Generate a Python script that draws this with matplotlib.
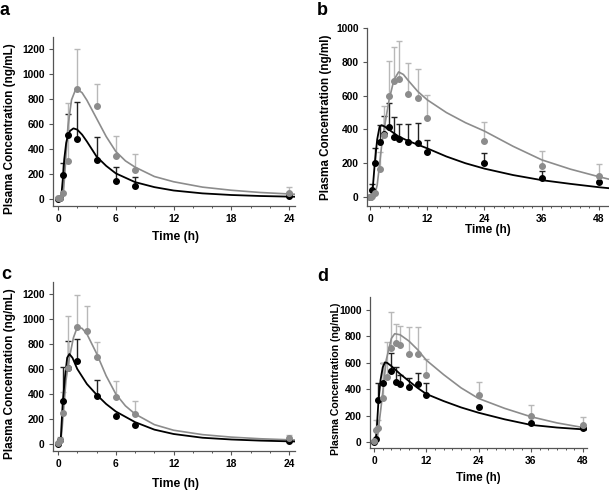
import numpy as np
import matplotlib.pyplot as plt
from matplotlib.ticker import MultipleLocator

plt.rcParams['font.family'] = ['Liberation Sans', 'DejaVu Sans']
plt.rcParams['font.weight'] = 'bold'

# ---- panel a ----
a_t = [0, 0.25, 0.5, 1, 2, 4, 6, 8, 24]
a_black = [3, 5, 190, 510, 480, 315, 145, 100, 20]
a_black_sd = [0, 0, 95, 170, 295, 180, 113, 76, 30]
a_grey = [5, 5, 45, 305, 880, 745, 345, 235, 50]
a_grey_sd = [0, 0, 0, 465, 320, 175, 155, 125, 45]
a_fit_black_t = [0, 0.25, 0.35, 0.5, 0.65, 0.85, 1.0, 1.25, 1.6, 2, 2.5, 3, 4, 5, 6, 8, 10, 12, 15, 18, 21, 24.6]
a_fit_black = [0, 0, 30, 160, 320, 450, 500, 545, 565, 555, 515, 460, 340, 265, 205, 135, 95, 68, 45, 32, 24, 18]
a_fit_grey_t = [0, 0.4, 0.55, 0.73, 1.03, 1.4, 1.87, 2.5, 3, 4, 5, 6, 7, 8, 10, 12, 15, 18, 21, 24.6]
a_fit_grey = [0, 0, 40, 232, 579, 792, 885, 850, 790, 645, 500, 380, 305, 255, 180, 138, 95, 70, 52, 38]

# ---- panel b ----
b_black_t = [0, 0.5, 1, 2, 3, 4, 5, 6, 8, 10, 12, 24, 36, 48]
b_black = [0, 42, 199, 327, 372, 412, 357, 341, 325, 320, 264, 199, 112, 89]
b_black_sd = [0, 34, 93, 99, 109, 146, 114, 91, 107, 116, 73, 63, 44, 0]
b_grey_t = [0, 0.25, 0.5, 1, 2, 3, 4, 5, 6, 8, 10, 12, 24, 36, 48]
b_grey = [0, 2, 8, 25, 164, 367, 598, 688, 700, 609, 584, 468, 331, 181, 124]
b_grey_sd = [0, 0, 0, 0, 104, 171, 209, 201, 225, 186, 173, 135, 114, 91, 71]
b_fit_black_t = [0, 0.3, 0.6, 1, 1.5, 2.0, 2.4, 3, 4, 5, 6, 8, 10, 12, 16, 20, 24, 30, 36, 42, 48, 50.2]
b_fit_black = [0, 0, 60, 200, 340, 415, 425, 418, 398, 378, 358, 332, 310, 288, 240, 200, 168, 130, 100, 78, 58, 52]
b_fit_grey_t = [0, 0.7, 1.0, 1.5, 2, 2.5, 3, 4, 5, 6, 7, 8, 10, 12, 16, 20, 24, 30, 36, 42, 48, 50.2]
b_fit_grey = [0, 0, 15, 70, 190, 320, 410, 574, 692, 740, 725, 690, 625, 575, 500, 440, 390, 300, 220, 165, 120, 105]

# ---- panel c ----
c_black_t = [0, 0.25, 0.5, 1, 2, 4, 6, 8, 24]
c_black = [0, 30, 347, 610, 667, 384, 224, 149, 24]
c_black_sd = [0, 0, 266, 215, 170, 130, 0, 0, 0]
c_grey_t = [0, 0.25, 0.5, 1, 2, 3, 4, 6, 8, 24]
c_grey = [5, 30, 245, 605, 933, 907, 699, 379, 240, 45]
c_grey_sd = [0, 30, 175, 420, 257, 200, 120, 126, 108, 30]
c_fit_black_t = [0, 0.15, 0.3, 0.49, 0.73, 0.95, 1.18, 1.5, 2, 3, 4, 5, 6, 8, 10, 12, 15, 18, 21, 24.6]
c_fit_black = [0, 0, 60, 330, 540, 690, 720, 690, 600, 480, 395, 320, 260, 175, 115, 80, 50, 36, 27, 20]
c_fit_grey_t = [0, 0.25, 0.4, 0.55, 0.83, 1.18, 1.6, 2, 2.5, 3, 4, 5, 6, 7, 8, 10, 12, 15, 18, 21, 24.6]
c_fit_grey = [0, 5, 100, 245, 510, 690, 850, 935, 925, 880, 725, 545, 400, 305, 240, 155, 110, 75, 55, 42, 32]

# ---- panel d ----
d_black_t = [0, 0.5, 1, 2, 4, 5, 6, 8, 10, 12, 24, 36, 48]
d_black = [0, 20, 318, 444, 540, 457, 439, 419, 439, 356, 268, 146, 105]
d_black_sd = [0, 0, 131, 152, 137, 114, 69, 63, 81, 88, 0, 0, 0]
d_grey_t = [0, 0.5, 1, 2, 3, 4, 5, 6, 8, 10, 12, 24, 36, 48]
d_grey = [5, 91, 108, 331, 490, 710, 748, 735, 664, 664, 508, 356, 200, 129]
d_grey_sd = [0, 76, 60, 270, 270, 277, 146, 144, 210, 210, 122, 99, 80, 63]
d_fit_black_t = [0, 0.3, 0.6, 1.0, 1.5, 2.0, 2.5, 3, 4, 5, 6, 8, 10, 12, 16, 20, 24, 30, 36, 42, 48, 49]
d_fit_black = [0, 0, 80, 300, 470, 565, 603, 600, 575, 545, 515, 462, 410, 364, 310, 262, 222, 172, 130, 110, 96, 94]
d_fit_grey_t = [0, 0.4, 0.8, 1.2, 1.6, 2.07, 2.8, 4, 4.75, 6, 8, 10, 12, 16, 20, 24, 30, 36, 42, 48, 49]
d_fit_grey = [0, 0, 40, 150, 260, 394, 621, 785, 820, 812, 765, 700, 620, 510, 410, 330, 255, 192, 145, 110, 105]

GREY = '#8c8c8c'
GREY_BAR = '#b8b8b8'
BLACK = '#000000'


def draw_bars(ax, t, y, sd, barcolor):
    t = np.array(t, dtype=float)
    y = np.array(y, dtype=float)
    sd = np.array(sd, dtype=float)
    m = sd > 0
    ax.errorbar(t[m], y[m], yerr=[np.zeros(m.sum()), sd[m]], fmt='none',
                ecolor=barcolor, elinewidth=1.0, capsize=2.5, capthick=1.0)


def draw_panel(ax, black, grey):
    # black: (t, y, sd, fit_t, fit_y); grey likewise
    draw_bars(ax, black[0], black[1], black[2], '#222222')
    draw_bars(ax, grey[0], grey[1], grey[2], GREY_BAR)
    ax.plot(grey[3], grey[4], color=GREY, lw=1.2)
    ax.plot(black[3], black[4], color=BLACK, lw=1.3)
    ax.plot(black[0], black[1], 'o', color=BLACK, ms=4.0)
    ax.plot(grey[0], grey[1], 'o', color=GREY, ms=4.0)


def style_axes(ax, xlim, ylim, xmajor, ylabel, ylab_xy, xlab_xy, ylab_size, xlab_size):
    ax.set_xlim(*xlim)
    ax.set_ylim(*ylim)
    ax.xaxis.set_major_locator(MultipleLocator(xmajor))
    ax.xaxis.set_minor_locator(MultipleLocator(2))
    ax.yaxis.set_major_locator(MultipleLocator(200))
    for s in ['top', 'right']:
        ax.spines[s].set_visible(False)
    for s in ['left', 'bottom']:
        ax.spines[s].set_color('#555555')
        ax.spines[s].set_linewidth(0.9)
    ax.tick_params(which='major', direction='out', length=3, width=0.8, color='#555555',
                   labelsize=7.4, pad=3)
    ax.tick_params(which='minor', direction='out', length=1.5, width=0.7, color='#555555')
    for lab in ax.get_xticklabels() + ax.get_yticklabels():
        lab.set_fontweight('bold')
    ax.set_ylabel(ylabel, fontsize=ylab_size, fontweight='bold', va='center')
    ax.yaxis.set_label_coords(*ylab_xy)
    ax.set_xlabel('Time (h)', fontsize=xlab_size, fontweight='bold', va='center')
    ax.xaxis.set_label_coords(*xlab_xy)


W, H = 609, 490
fig = plt.figure(figsize=(W / 100, H / 100), dpi=100)


def px_axes(left, top, right, bottom):
    return fig.add_axes([left / W, 1 - bottom / H, (right - left) / W, (bottom - top) / H])


ax_a = px_axes(53, 37, 295, 206)
draw_panel(ax_a, (a_t, a_black, a_black_sd, a_fit_black_t, a_fit_black),
           (a_t, a_grey, a_grey_sd, a_fit_grey_t, a_fit_grey))
style_axes(ax_a, (-0.52, 24.6), (-56, 1296), 6, 'Plsama Concentration (ng/mL)',
           (-0.178, 0.46), (0.508, -0.183), 8.5, 8.7)

ax_b = px_axes(367, 28, 609, 206)
draw_panel(ax_b, (b_black_t, b_black, b_black_sd, b_fit_black_t, b_fit_black),
           (b_grey_t, b_grey, b_grey_sd, b_fit_grey_t, b_fit_grey))
style_axes(ax_b, (-0.63, 50.1), (-53, 1000), 12, 'Plasma Concentration (ng/ml)',
           (-0.169, 0.50), (0.50, -0.135), 8.4, 8.5)

ax_c = px_axes(53, 282, 295, 451)
draw_panel(ax_c, (c_black_t, c_black, c_black_sd, c_fit_black_t, c_fit_black),
           (c_grey_t, c_grey, c_grey_sd, c_fit_grey_t, c_fit_grey))
style_axes(ax_c, (-0.52, 24.6), (-56, 1296), 6, 'Plasma Concentration (ng/mL)',
           (-0.178, 0.456), (0.508, -0.195), 8.5, 8.7)

ax_d = px_axes(370, 297, 587, 448)
draw_panel(ax_d, (d_black_t, d_black, d_black_sd, d_fit_black_t, d_fit_black),
           (d_grey_t, d_grey, d_grey_sd, d_fit_grey_t, d_fit_grey))
style_axes(ax_d, (-0.92, 48.9), (-45, 1098), 12, 'Plasma Concentration (ng/mL)',
           (-0.157, 0.457), (0.498, -0.199), 7.6, 8.3)

# panel letters
for letter, x, y in [('a', 0, 15), ('b', 317, 15), ('c', 1, 279), ('d', 317, 281)]:
    fig.text(x / W, 1 - y / H, letter, fontsize=13, fontweight='bold', ha='left', va='baseline')

fig.savefig('out.png', dpi=100)
